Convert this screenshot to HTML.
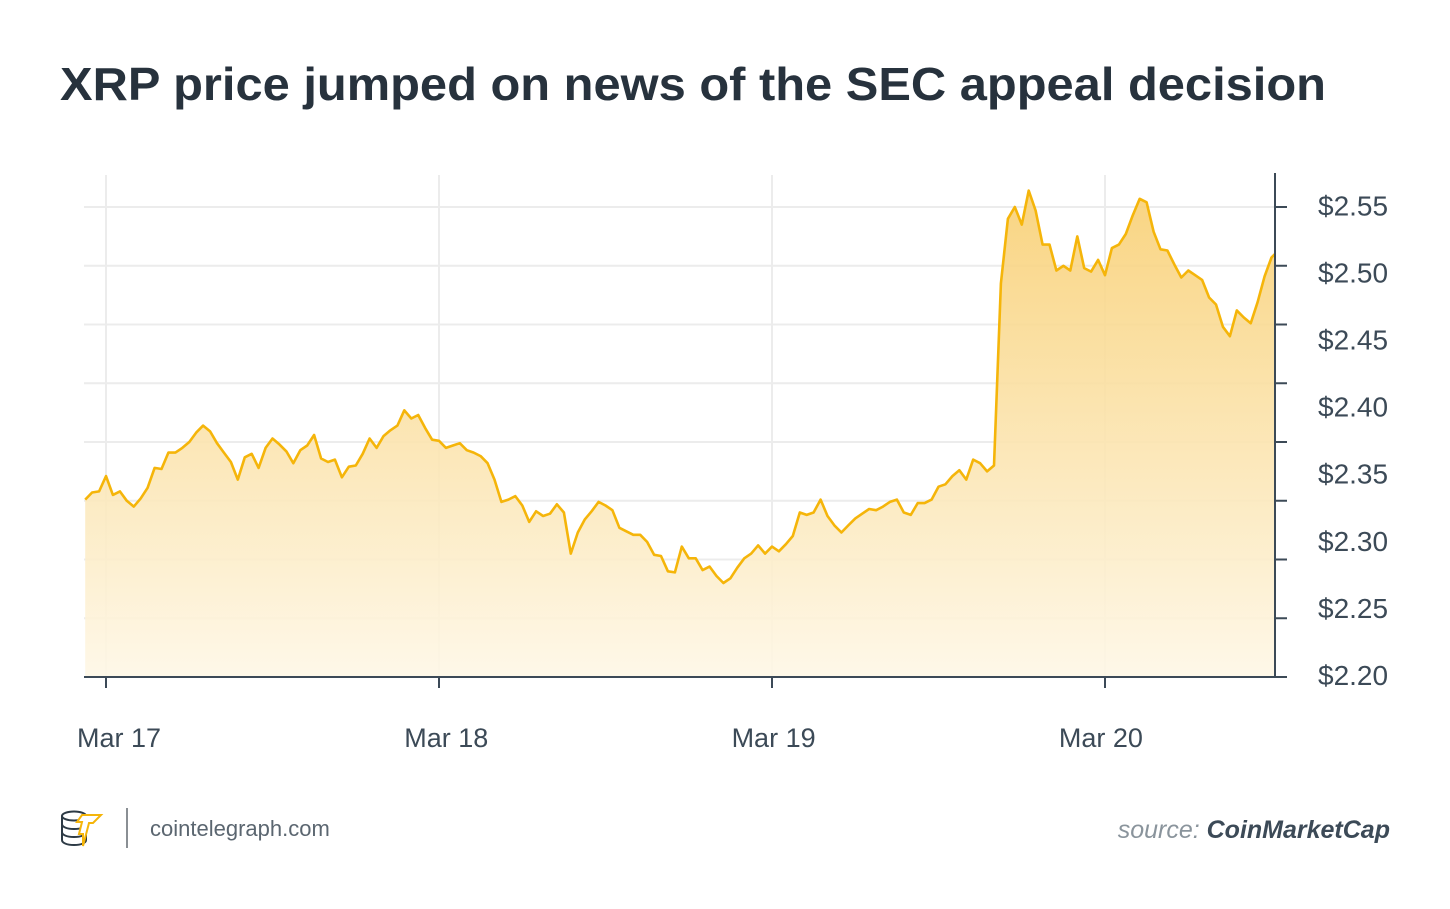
<!DOCTYPE html>
<html><head><meta charset="utf-8"><style>
html,body{margin:0;padding:0;background:#fff;}
svg{display:block;font-family:"Liberation Sans",sans-serif;}
</style></head><body>
<svg id="chart" width="1450" height="909" viewBox="0 0 1450 909" xmlns="http://www.w3.org/2000/svg">
<defs>
<linearGradient id="areaGrad" x1="0" y1="183" x2="0" y2="677" gradientUnits="userSpaceOnUse">
<stop offset="0" stop-color="#f8cf72" stop-opacity="0.9"/>
<stop offset="1" stop-color="#fef7e6" stop-opacity="0.9"/>
</linearGradient>
<clipPath id="plotClip"><rect x="84" y="150" width="1191" height="527"/></clipPath>
</defs>
<text x="60" y="100" font-size="46" font-weight="bold" fill="#27323d" textLength="1266" lengthAdjust="spacingAndGlyphs">XRP price jumped on news of the SEC appeal decision</text>
<g id="grid"></g>
<g id="area" clip-path="url(#plotClip)"></g>
<g id="axes"></g>
<g>
<g fill="none" stroke-width="2">
<ellipse cx="74" cy="816" rx="12" ry="4.5" stroke="#2d3a45"/>
<path d="M62 816v24c0 3 5 5 12 5s12-2 12-5v-24M62 824c0 3 5 5 12 5s12-2 12-5M62 832c0 3 5 5 12 5s12-2 12-5" stroke="#2d3a45"/>
<path d="M82 815h19l-8 8h-4l-6 23 0-12h-4l3-12h-5z" stroke="#f5b50a" fill="#fff"/>
</g>
<rect x="126" y="808" width="2" height="40" fill="#8a8f94"/>
<text x="150" y="836" font-size="22" fill="#5b6670">cointelegraph.com</text>
<text x="1390" y="838" font-size="25" text-anchor="end" font-style="italic"><tspan fill="#8a949c">source: </tspan><tspan fill="#3c4a57" font-weight="bold">CoinMarketCap</tspan></text>
</g>
</svg>
<script>
const hours = [];
const prices = [2.351,2.357,2.358,2.371,2.355,2.358,2.350,2.345,2.352,2.361,2.378,2.377,2.391,2.391,2.395,2.400,2.408,2.414,2.409,2.399,2.391,2.383,2.368,2.387,2.390,2.378,2.395,2.403,2.398,2.392,2.382,2.393,2.397,2.406,2.386,2.383,2.385,2.370,2.379,2.380,2.390,2.403,2.395,2.405,2.410,2.414,2.427,2.420,2.423,2.412,2.402,2.401,2.395,2.397,2.399,2.393,2.391,2.388,2.382,2.368,2.349,2.351,2.354,2.346,2.332,2.341,2.337,2.339,2.347,2.340,2.305,2.323,2.334,2.341,2.349,2.346,2.342,2.327,2.324,2.321,2.321,2.315,2.304,2.303,2.290,2.289,2.311,2.301,2.301,2.291,2.294,2.286,2.280,2.284,2.293,2.301,2.305,2.312,2.305,2.311,2.307,2.313,2.320,2.340,2.338,2.340,2.351,2.337,2.329,2.323,2.329,2.335,2.339,2.343,2.342,2.345,2.349,2.351,2.340,2.338,2.348,2.348,2.351,2.362,2.364,2.371,2.376,2.368,2.385,2.382,2.375,2.380,2.535,2.590,2.600,2.585,2.614,2.597,2.568,2.568,2.546,2.550,2.546,2.575,2.548,2.545,2.555,2.542,2.565,2.568,2.577,2.593,2.607,2.604,2.579,2.564,2.563,2.551,2.540,2.546,2.542,2.538,2.523,2.517,2.498,2.490,2.512,2.506,2.501,2.519,2.541,2.557,2.563];
for (let i = 0; i < prices.length; i++) hours.push(-1.5 + 0.5 * i);
const dateTicks = [0, 24, 48, 72];
const dateLabels = ["Mar 17", "Mar 18", "Mar 19", "Mar 20"];
const gridValues = [2.20,2.25,2.30,2.35,2.40,2.45,2.50,2.55,2.60];
const priceLabels = [2.20,2.25,2.30,2.35,2.40,2.45,2.50,2.55];

const NS = "http://www.w3.org/2000/svg";
function xScale(h){ return 106 + h * 13.875; }
function yScale(v){ return 677 - (v - 2.20) / 0.05 * 58.75; }
function labelY(v){ return 675 - (v - 2.20) / 0.05 * 67.1; }
function mk(tag, attrs, parent){ const e = document.createElementNS(NS, tag); for (const k in attrs) e.setAttribute(k, attrs[k]); parent.appendChild(e); return e; }

const grid = document.getElementById('grid');
gridValues.forEach(v => {
  const l = mk('line', {x1:84, x2:1275, y1:yScale(v), y2:yScale(v), stroke:'#ececec', 'stroke-width':2}, grid);
  
  
});
dateTicks.forEach(h => {
  const l = mk('line', {x1:xScale(h), x2:xScale(h), y1:175, y2:677, stroke:'#ececec', 'stroke-width':2}, grid);
  
  
});

const area = document.getElementById('area');
let d = '';
hours.forEach((h, i) => { d += (i ? 'L' : 'M') + xScale(h).toFixed(1) + ' ' + yScale(prices[i]).toFixed(1); });
const last = xScale(hours[hours.length-1]).toFixed(1), first = xScale(hours[0]).toFixed(1);
const fill = mk('path', {d: d + 'L' + last + ' 677L' + first + ' 677Z', fill:'url(#areaGrad)'}, area);


const line = mk('path', {d: d, fill:'none', stroke:'#f5b50a', 'stroke-width':2.6, 'stroke-linejoin':'round'}, area);



const axes = document.getElementById('axes');
const ax1 = mk('line', {x1:84, x2:1276, y1:677, y2:677, stroke:'#3c4a57', 'stroke-width':2}, axes);


const ax2 = mk('line', {x1:1275, x2:1275, y1:173, y2:678, stroke:'#3c4a57', 'stroke-width':2}, axes);


gridValues.forEach(v => {
  const t = mk('line', {x1:1275, x2:1287, y1:yScale(v), y2:yScale(v), stroke:'#3c4a57', 'stroke-width':2}, axes);
  
  
});
priceLabels.forEach(v => {
  const t = mk('text', {x:1318, y:labelY(v) + 10, 'font-size':28, fill:'#3c4a57'}, axes);
  t.textContent = '$' + v.toFixed(2);
  
  
});
dateTicks.forEach((h, i) => {
  const t = mk('line', {x1:xScale(h), x2:xScale(h), y1:677, y2:688, stroke:'#3c4a57', 'stroke-width':2}, axes);
  
  
  const lb = mk('text', {x:xScale(h) + 13 - i * 5.7, y:747, 'font-size':27, fill:'#3c4a57', 'text-anchor':'middle'}, axes);
  lb.textContent = dateLabels[i];
  
  
});
</script>
</body></html>
